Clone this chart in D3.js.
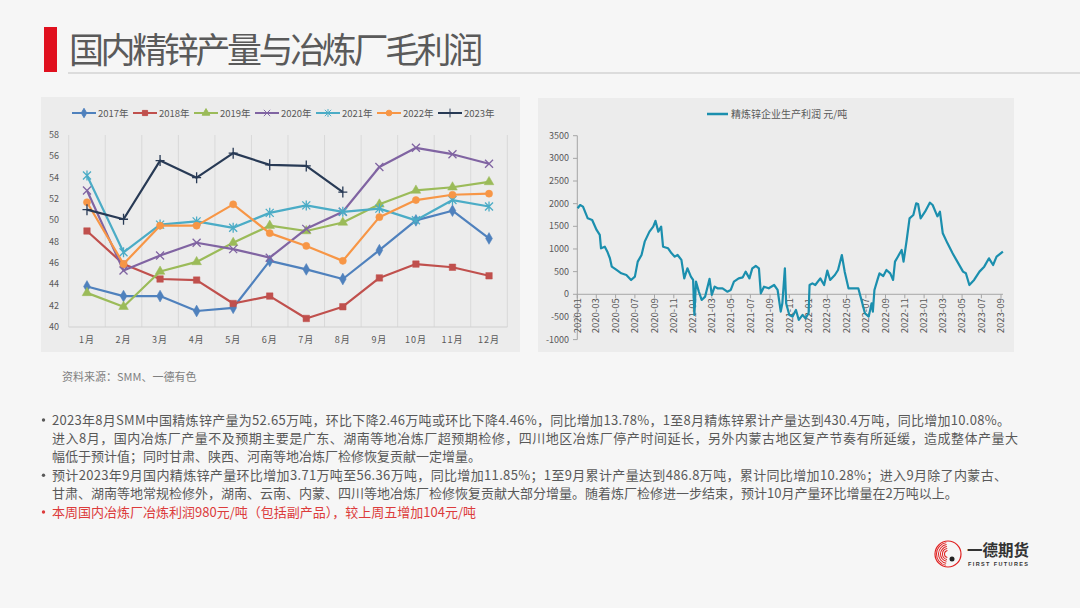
<!DOCTYPE html>
<html><head><meta charset="utf-8">
<script src="https://cdn.jsdelivr.net/npm/d3@7/dist/d3.min.js"></script>
<style>
html,body{margin:0;padding:0;background:#f6f6f6;}
svg{display:block;font-family:"Noto Sans CJK SC","Microsoft YaHei",sans-serif;}
</style></head>
<body>
<svg id="c" width="1080" height="608"></svg>
<script>
// ---------- data: left chart (万吨) ----------
const months = ["1月","2月","3月","4月","5月","6月","7月","8月","9月","10月","11月","12月"];
const seriesNames = ["2017年","2018年","2019年","2020年","2021年","2022年","2023年"];
const v2017 = [43.8,42.9,42.9,41.5,41.8,46.2,45.4,44.5,47.2,50.0,50.9,48.3];
const v2018 = [49.0,45.9,44.5,44.4,42.2,42.9,40.8,41.9,44.6,45.9,45.6,44.8];
const v2019 = [43.2,41.9,45.2,46.1,47.9,49.5,49.0,49.8,51.5,52.8,53.1,53.6];
const v2020 = [52.8,45.3,46.7,47.9,47.3,46.5,49.2,50.8,55.0,56.8,56.2,55.3];
const v2021 = [54.2,47.0,49.6,49.9,49.3,50.7,51.4,50.8,51.1,50.0,51.9,51.3];
const v2022 = [51.7,45.9,49.5,49.5,51.5,48.8,47.6,46.2,50.3,51.9,52.4,52.5];
const v2023 = [51.0,50.1,55.6,54.0,56.3,55.2,55.1,52.65];
const leftTicks = [40,42,44,46,48,50,52,54,56,58];

// ---------- data: right chart (元/吨) ----------
const profitDates = ["2020-01-02","2020-01-10","2020-01-19","2020-02-03","2020-02-17","2020-03-02","2020-03-12","2020-03-16","2020-03-28","2020-04-05","2020-04-13","2020-04-19","2020-05-04","2020-05-19","2020-06-04","2020-06-19","2020-07-01","2020-07-10","2020-07-22","2020-08-01","2020-08-16","2020-08-28","2020-09-04","2020-09-13","2020-09-22","2020-09-28","2020-10-14","2020-10-25","2020-11-04","2020-11-13","2020-11-25","2020-12-04","2020-12-14","2020-12-25","2021-01-01","2021-01-05","2021-01-10","2021-01-19","2021-01-28","2021-02-08","2021-02-22","2021-03-01","2021-03-10","2021-03-19","2021-04-04","2021-04-19","2021-04-30","2021-05-10","2021-05-25","2021-06-07","2021-06-16","2021-06-28","2021-07-07","2021-07-18","2021-07-28","2021-08-03","2021-08-13","2021-08-28","2021-09-14","2021-09-25","2021-10-05","2021-10-10","2021-10-18","2021-10-22","2021-11-01","2021-11-11","2021-11-22","2021-12-01","2021-12-13","2021-12-22","2022-01-01","2022-01-04","2022-01-13","2022-01-22","2022-02-07","2022-02-19","2022-03-01","2022-03-10","2022-03-25","2022-04-04","2022-04-16","2022-04-25","2022-05-07","2022-05-22","2022-06-07","2022-06-17","2022-06-28","2022-07-10","2022-07-19","2022-07-23","2022-07-28","2022-08-08","2022-08-13","2022-08-25","2022-09-04","2022-09-16","2022-09-25","2022-10-01","2022-10-10","2022-10-22","2022-10-28","2022-11-07","2022-11-16","2022-11-28","2022-12-07","2022-12-13","2022-12-21","2023-01-04","2023-01-19","2023-01-28","2023-02-12","2023-02-20","2023-03-01","2023-03-16","2023-04-01","2023-04-16","2023-05-04","2023-05-13","2023-05-24","2023-06-08","2023-06-25","2023-07-10","2023-07-25","2023-08-07","2023-08-18","2023-09-07"];
const profitValues = [1898,1970,1935,1677,1640,1420,1310,1015,1050,940,795,610,537,463,427,316,390,720,868,1162,1383,1493,1620,1383,1493,1050,1015,905,831,868,758,353,574,390,316,-456,280,59,-125,-51,340,-15,169,132,132,58,95,279,352,374,500,352,573,625,573,21,168,132,205,95,-382,-199,573,-199,-456,-493,-346,-566,-456,-530,-419,205,242,205,352,205,521,316,426,536,867,500,132,132,132,-125,-419,-493,-199,-382,95,352,463,404,536,463,316,720,830,977,720,1198,1676,1750,2007,1993,1676,1823,2022,1970,1720,1823,1345,1124,904,720,500,463,205,316,500,610,794,647,830,940];
const rightTicks = [-1000,-500,0,500,1000,1500,2000,2500,3000,3500];

const svg = d3.select("#c");
const gray = "#595959";

// ---------- header ----------
svg.append("rect").attr("x",44).attr("y",27).attr("width",13).attr("height",45).attr("fill","#e0101e");
svg.append("text").attr("x",69).attr("y",63).attr("font-size",35).attr("letter-spacing",-3.4)
  .attr("fill","#5a5a5a").text("国内精锌产量与冶炼厂毛利润");
svg.append("line").attr("x1",68).attr("x2",1080).attr("y1",73).attr("y2",73).attr("stroke","#dcdcdc").attr("stroke-width",2);

// ---------- panels ----------
svg.append("rect").attr("x",41).attr("y",97).attr("width",479).attr("height",255).attr("fill","#ececec");
svg.append("rect").attr("x",538).attr("y",98).attr("width",476).attr("height",254).attr("fill","#ececec");

// ---------- left chart ----------
const L = svg.append("g");
const x = d3.scaleBand().domain(months).range([68.7,507.3]);
const y = d3.scaleLinear().domain([40,58]).range([327,135]);
const bounds = months.map(m=>x(m)).concat([x.range()[1]]);
L.selectAll(".vg").data(bounds).enter().append("line")
  .attr("x1",d=>d).attr("x2",d=>d).attr("y1",135).attr("y2",327)
  .attr("stroke","#d9d9d9").attr("stroke-width",1);
L.append("line").attr("x1",68.7).attr("x2",507.3).attr("y1",327).attr("y2",327).attr("stroke","#d0d0d0");
L.selectAll(".yl").data(leftTicks).enter().append("text")
  .attr("x",59).attr("y",d=>y(d)+3).attr("text-anchor","end").attr("font-size",9).attr("fill",gray).text(d=>d);
L.selectAll(".xl").data(months).enter().append("text")
  .attr("x",d=>x(d)+x.bandwidth()/2).attr("y",343).attr("text-anchor","middle").attr("font-size",9)
  .attr("letter-spacing",1).attr("fill",gray).text(d=>d);

const colors = ["#4f81bd","#c0504d","#9bbb59","#8064a2","#4bacc6","#f79646","#283a55"];
const allVals = [v2017,v2018,v2019,v2020,v2021,v2022,v2023];
const markerTypes = ["diamond","square","triangle","x","star","circle","plus"];

function markerPath(type){
  switch(type){
    case "diamond": return d3.symbol().type(d3.symbolDiamond).size(40)();
    case "square": return d3.symbol().type(d3.symbolSquare).size(42)();
    case "triangle": return d3.symbol().type(d3.symbolTriangle).size(40)();
    case "circle": return d3.symbol().type(d3.symbolCircle).size(40)();
    case "x": return "M-4,-4L4,4M-4,4L4,-4";
    case "star": return "M-4,-4L4,4M-4,4L4,-4M0,-5L0,5";
    case "plus": return "M-4.5,0L4.5,0M0,-5.5L0,5.5";
  }
}
const strokeMarkers = new Set(["x","star","plus"]);
const line = d3.line().x((d,i)=>x(months[i])+x.bandwidth()/2).y(d=>y(d));

allVals.forEach((vals,si)=>{
  const g = L.append("g");
  g.append("path").datum(vals).attr("d",line).attr("fill","none").attr("stroke",colors[si]).attr("stroke-width",2.2).attr("stroke-linejoin","round");
  g.selectAll("path.m").data(vals).enter().append("path").attr("class","m")
    .attr("transform",(d,i)=>`translate(${x(months[i])+x.bandwidth()/2},${y(d)})`)
    .attr("d",markerPath(markerTypes[si]))
    .attr("fill",strokeMarkers.has(markerTypes[si])?"none":colors[si])
    .attr("stroke",colors[si]).attr("stroke-width",strokeMarkers.has(markerTypes[si])?1.3:0.5);
});
const lg = L.append("g");
seriesNames.forEach((n,i)=>{
  const lx = 72 + i*61, ly = 113;
  lg.append("line").attr("x1",lx).attr("x2",lx+24).attr("y1",ly).attr("y2",ly).attr("stroke",colors[i]).attr("stroke-width",2);
  lg.append("path").attr("transform",`translate(${lx+12},${ly}) scale(0.8)`).attr("d",markerPath(markerTypes[i]))
    .attr("fill",strokeMarkers.has(markerTypes[i])?"none":colors[i]).attr("stroke",colors[i]).attr("stroke-width",1.2);
  lg.append("text").attr("x",lx+26).attr("y",ly+3.5).attr("font-size",9.5).attr("fill",gray).text(n);
});

// ---------- right chart ----------
const R = svg.append("g");
const parse = d3.timeParse("%Y-%m-%d");
const xt = d3.scaleTime().domain([new Date(2020,0,1),new Date(2023,8,1)]).range([577.3,1001]);
const yr = d3.scaleLinear().domain([-1000,3500]).range([339.6,135.7]);
R.append("line").attr("x1",577.3).attr("x2",577.3).attr("y1",yr(3500)).attr("y2",yr(-1000)).attr("stroke","#a6a6a6");
R.selectAll(".yt").data(rightTicks).enter().append("line")
  .attr("x1",573).attr("x2",577.3).attr("y1",d=>yr(d)).attr("y2",d=>yr(d)).attr("stroke","#a6a6a6");
R.selectAll(".ytl").data(rightTicks).enter().append("text")
  .attr("x",569).attr("y",d=>yr(d)+3).attr("text-anchor","end").attr("font-size",9).attr("fill",gray).text(d=>d);
const xTicks = d3.timeMonth.every(2).range(new Date(2020,0,1), new Date(2023,8,2));
R.append("line").attr("x1",577.3).attr("x2",1003).attr("y1",yr(0)).attr("y2",yr(0)).attr("stroke","#a6a6a6");
R.selectAll(".xt").data(xTicks).enter().append("line")
  .attr("x1",d=>xt(d)).attr("x2",d=>xt(d)).attr("y1",yr(0)).attr("y2",yr(0)+4).attr("stroke","#a6a6a6");
const fmt = d3.timeFormat("%Y-%m");
R.selectAll(".xtl").data(xTicks).enter().append("text")
  .attr("transform",d=>`translate(${xt(d)+3.2},${yr(0)+4}) rotate(-90)`)
  .attr("text-anchor","end").attr("font-size",9.5).attr("fill",gray).text(d=>fmt(d));
const pdata = profitDates.map((d,i)=>({d:parse(d),v:profitValues[i]}));
R.append("path").datum(pdata).attr("d",d3.line().x(p=>xt(p.d)).y(p=>yr(p.v)))
  .attr("fill","none").attr("stroke","#1b8fae").attr("stroke-width",2.2).attr("stroke-linejoin","round");
R.append("line").attr("x1",707).attr("x2",728).attr("y1",114).attr("y2",114).attr("stroke","#1b8fae").attr("stroke-width",2.5);
R.append("text").attr("x",731).attr("y",118).attr("font-size",10).attr("fill",gray).text("精炼锌企业生产利润 元/吨");

// ---------- source ----------
svg.append("text").attr("x",62).attr("y",381).attr("font-size",11).attr("fill","#7f7f7f").text("资料来源：SMM、一德有色");

// ---------- bullets ----------
const bulletLines = [
  {t:"2023年8月SMM中国精炼锌产量为52.65万吨，环比下降2.46万吨或环比下降4.46%，同比增加13.78%，1至8月精炼锌累计产量达到430.4万吨，同比增加10.08%。", b:true, w:958, c:gray},
  {t:"进入8月，国内冶炼厂产量不及预期主要是广东、湖南等地冶炼厂超预期检修，四川地区冶炼厂停产时间延长，另外内蒙古地区复产节奏有所延缓，造成整体产量大", b:false, w:966, c:gray},
  {t:"幅低于预计值；同时甘肃、陕西、河南等地冶炼厂检修恢复贡献一定增量。", b:false, w:null, c:gray},
  {t:"预计2023年9月国内精炼锌产量环比增加3.71万吨至56.36万吨，同比增加11.85%；1至9月累计产量达到486.8万吨，累计同比增加10.28%；进入9月除了内蒙古、", b:true, w:955, c:gray},
  {t:"甘肃、湖南等地常规检修外，湖南、云南、内蒙、四川等地冶炼厂检修恢复贡献大部分增量。随着炼厂检修进一步结束，预计10月产量环比增量在2万吨以上。", b:false, w:null, c:gray},
  {t:"本周国内冶炼厂冶炼利润980元/吨（包括副产品），较上周五增加104元/吨", b:true, w:null, c:"#dc3b3b"}
];
bulletLines.forEach((l,i)=>{
  const yy = 424.5 + i*18.4;
  if(l.b) svg.append("circle").attr("cx",43.5).attr("cy",yy-4.5).attr("r",1.7).attr("fill",l.c);
  const t = svg.append("text").attr("x",52).attr("y",yy).attr("font-size",13).attr("fill",l.c).text(l.t);
  if(l.w) t.attr("textLength",l.w).attr("lengthAdjust","spacing");
});

// ---------- logo ----------
const lgG = svg.append("g").attr("transform","translate(948,554)");
lgG.append("circle").attr("r",13).attr("fill","none").attr("stroke","#e02020").attr("stroke-width",1.2);
[0,1,2,3,4].forEach(k=>{
  lgG.append("path").attr("d",d3.arc()({innerRadius:3+k*2,outerRadius:4+k*2,startAngle:-2.6,endAngle:0.2}))
    .attr("fill","#e02020").attr("transform","rotate(-20)");
});
lgG.append("circle").attr("cx",4).attr("cy",5).attr("r",2.5).attr("fill","#222");
svg.append("text").attr("x",967).attr("y",555.5).attr("font-size",15.5).attr("font-weight",700).attr("fill","#333").text("一德期货");
svg.append("text").attr("x",968).attr("y",566).attr("font-size",5.5).attr("font-weight",700).attr("fill","#333")
  .attr("font-family","Liberation Sans, Arial, sans-serif").attr("textLength",60).text("FIRST FUTURES");
</script>
</body></html>
